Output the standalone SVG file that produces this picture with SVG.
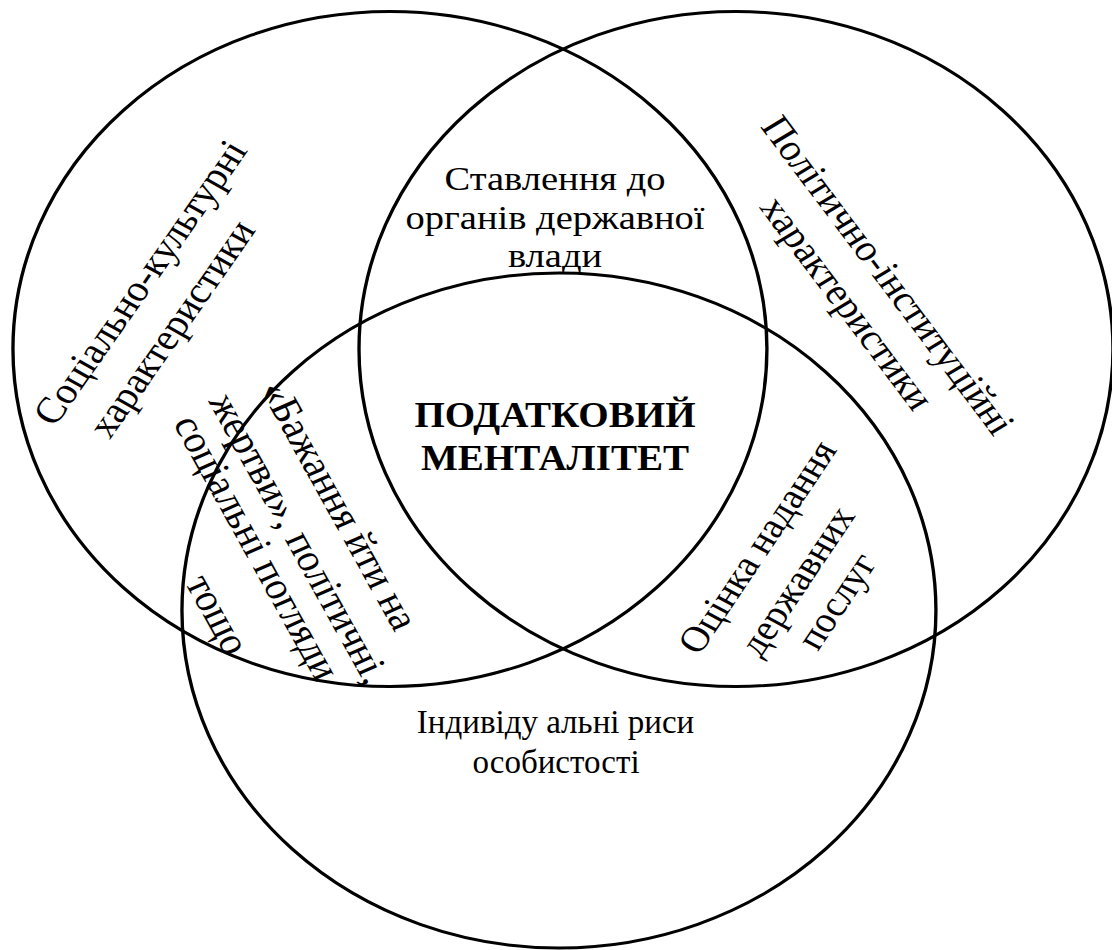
<svg xmlns="http://www.w3.org/2000/svg" width="1112" height="950" viewBox="0 0 1112 950">
  <style>
    .ring { fill: none; stroke: #000; stroke-width: 3; }
    .lbl { font-family: "Liberation Serif", "Times New Roman", serif; font-size: 34.5px; fill: #000; text-anchor: middle; }
    .big { font-size: 37px; }
    .mid { font-size: 36px; }
    .huge { font-size: 38px; }
    .plain { font-size: 33px; }
    .core { font-size: 35px; font-weight: bold; }
  </style>
  <rect width="1112" height="950" fill="#fff"/>
  <!-- the whole figure is laid out on circles, then widened horizontally -->
  <g transform="scale(1.117,1)">
    <g id="social-cultural">
      <circle class="ring" cx="349.1" cy="349" r="337.5"/>
      <text class="lbl big" transform="translate(135.6,289) rotate(-58)">Соціально-культурні</text>
      <text class="lbl big" transform="translate(164,335) rotate(-58)">характеристики</text>
    </g>
    <g id="political-institutional">
      <circle class="ring" cx="658.9" cy="349" r="337.5"/>
      <text class="lbl big" transform="translate(785,282) rotate(56)">Політично-інституційні</text>
      <text class="lbl big" transform="translate(748.5,310) rotate(56)">характеристики</text>
    </g>
    <g id="individual">
      <circle class="ring" cx="500.4" cy="610.5" r="337.5"/>
    </g>
    <g id="authorities">
      <text class="lbl" x="496.9" y="190">Ставлення до</text>
      <text class="lbl" x="496.9" y="229">органів державної</text>
      <text class="lbl" x="496.9" y="267">влади</text>
    </g>
    <g id="services">
      <text class="lbl mid" transform="translate(688,553) rotate(-59)">Оцінка надання</text>
      <text class="lbl mid" transform="translate(723.5,587) rotate(-59)">державних</text>
      <text class="lbl mid" transform="translate(759,607) rotate(-59)">послуг</text>
    </g>
    <g id="sacrifice">
      <text class="lbl huge" transform="translate(293,511) rotate(63.6)">«Бажання йти на</text>
      <text class="lbl huge" transform="translate(257,544) rotate(63.6)">жертви», політичні,</text>
      <text class="lbl huge" transform="translate(219,553) rotate(63.6)">соціальні погляди</text>
      <text class="lbl huge" transform="translate(184,620) rotate(63.6)">тощо</text>
    </g>
    <g id="tax-mentality">
      <text class="lbl core" x="496.9" y="427">ПОДАТКОВИЙ</text>
      <text class="lbl core" x="496.9" y="470">МЕНТАЛІТЕТ</text>
    </g>
  </g>
  <!-- caption of the lower circle is set without the horizontal widening -->
  <g id="individual-caption">
    <text class="lbl plain" x="555.5" y="733">Індивіду альні риси</text>
    <text class="lbl plain" x="556" y="773">особистості</text>
  </g>
</svg>
